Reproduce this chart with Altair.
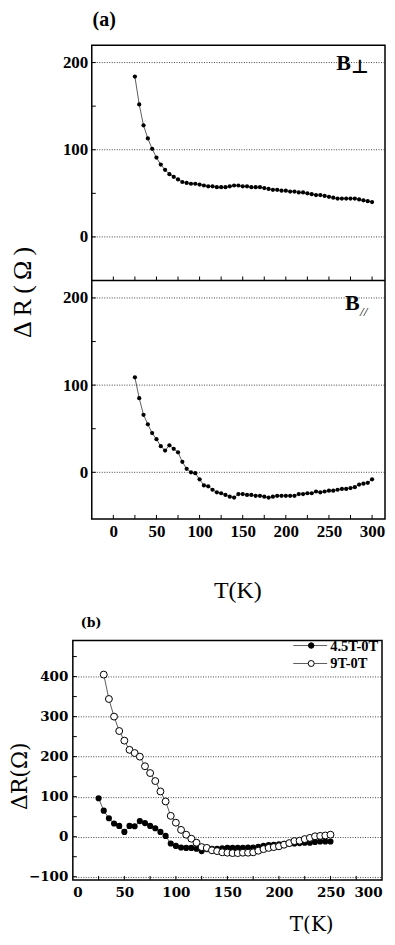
import altair as alt
import pandas as pd

# ---------------- data ----------------
T_A = [25, 30, 35, 40, 45, 50, 55, 60, 65, 70, 75, 80, 85, 90, 95, 100,
       105, 110, 115, 120, 125, 130, 135, 140, 145, 150, 155, 160, 165, 170,
       175, 180, 185, 190, 195, 200, 205, 210, 215, 220, 225, 230, 235, 240,
       245, 250, 255, 260, 265, 270, 275, 280, 285, 290, 295, 300]
DR_PERP = [184, 152, 128, 113, 101, 91, 83, 77, 72, 69, 66, 63, 62, 61, 61, 60,
           59, 58, 58, 57, 57, 57, 58, 59, 59, 58, 58, 57, 57, 57,
           56, 55, 54, 54, 53, 53, 52, 52, 51, 51, 50, 49, 48, 48,
           47, 46, 45, 44, 44, 44, 44, 44, 43, 42, 41, 40]
DR_PAR = [109, 85, 66, 55, 45, 38, 30, 25, 31, 27, 23, 12, 4, 0, -1, -8,
          -15, -16, -20, -23, -24, -26, -28, -29, -25, -25, -26, -26, -27, -27,
          -28, -29, -28, -27, -27, -27, -27, -27, -25, -25, -24, -24, -22, -23,
          -22, -21, -21, -20, -19, -19, -18, -17, -14, -13, -12, -8]

T_B45 = [25, 30, 35, 40, 45, 50, 55, 60, 65, 70, 75, 80, 85, 90, 95, 100,
         105, 110, 115, 120, 125, 130, 135, 140, 145, 150, 155, 160, 165, 170,
         175, 180, 185, 190, 195, 200, 205, 210, 215, 220, 225, 230, 235, 240,
         245, 250]
DR_45 = [96, 65, 46, 33, 27, 12, 27, 26, 39, 34, 27, 21, 12, 2, -17, -23,
         -27, -28, -28, -30, -36, -31, -30, -30, -29, -28, -28, -28, -28, -27,
         -27, -25, -23, -21, -20, -19, -18, -17, -17, -16, -15, -15, -13, -12,
         -12, -12]
T_B9 = [30, 35, 40, 45, 50, 55, 60, 65, 70, 75, 80, 85, 90, 95, 100,
        105, 110, 115, 120, 125, 130, 135, 140, 145, 150, 155, 160, 165, 170,
        175, 180, 185, 190, 195, 200, 205, 210, 215, 220, 225, 230, 235, 240,
        245, 250]
DR_9 = [405, 344, 300, 264, 240, 217, 209, 200, 176, 159, 139, 113, 88, 52, 35,
        17, 5, -5, -15, -26, -28, -34, -36, -39, -40, -41, -41, -40, -40,
        -39, -35, -31, -28, -26, -24, -20, -16, -11, -10, -6, -3, 1, 2,
        3, 5]

SERIES_B = ["4.5T-0T", "9T-0T"]
PANEL_LABELS = ["(a)", "(b)"]
FIELD_LABELS = ["B", "\u22a5", "B", "//"]
AXIS_TITLES = ["\u0394\u2009R\u2009(\u2009\u03a9\u2009)", "T(K)", "\u0394R(\u03a9)", "T(K)"]

# panel (a): two stacked sub-panels on one shared y scale; the lower (B//)
# panel is shifted down by A_SHIFT data units, its labels shifted back.
A_SHIFT = 270
A_Y_LABELS = [200, 100, 0, 200 - A_SHIFT, 100 - A_SHIFT, 0 - A_SHIFT]
A_Y_TICKS = [0, 50, 100, 150, 200, -A_SHIFT, 50 - A_SHIFT, 100 - A_SHIFT,
             150 - A_SHIFT, 200 - A_SHIFT]
A_X_LABELS = [0, 50, 100, 150, 200, 250, 300]
A_X_TICKS = [0, 25, 50, 75, 100, 125, 150, 175, 200, 225, 250, 275, 300]
B_X_LABELS = [0, 50, 100, 150, 200, 250, 300]
B_Y_LABELS = [-100, 0, 100, 200, 300, 400]
B_X_TICKS = [25, 50, 75, 100, 125, 150, 175, 200, 225, 250, 275]
B_Y_TICKS = [-100, -50, 0, 50, 100, 150, 200, 250, 300, 350, 400, 450]

# ---------------- styling / geometry ----------------
SERIF = "Liberation Serif"
WIDE = "DejaVu Serif"
IN_A = 19                      # panel (a) frame starts this far right of origin
W_A, H_A, H_TOP = 313, 475, 236
W_B, H_B = 310, 240
LINE_C = "#333333"
GRID_C = "#444444"

xs_a = alt.Scale(domain=[-25, 315], range=[IN_A, W_A], nice=False, zero=False)
ys_a = alt.Scale(domain=[-323.4, 220], nice=False, zero=False)
xs_b = alt.Scale(domain=[0, 300], nice=False, zero=False)
ys_b = alt.Scale(domain=[-108, 490], nice=False, zero=False)

AX_A_X = alt.Axis(
    values=A_X_LABELS, grid=False, ticks=False, tickSize=0, domain=False,
    labelFont=SERIF, labelFontWeight="bold", labelFontSize=17,
    labelPadding=5, labelColor="black", title=AXIS_TITLES[1], titleFont=SERIF,
    titleFontSize=24, titleFontWeight="normal", titleColor="black",
    titleX=165, titleY=79, titleBaseline="alphabetic")
AX_A_Y = alt.Axis(
    values=A_Y_LABELS, offset=-IN_A,
    labelExpr=f"datum.value < -60 ? format(datum.value + {A_SHIFT}, 'd') : format(datum.value, 'd')",
    labelFont=SERIF, labelFontWeight="bold", labelFontSize=17,
    labelPadding=4, labelColor="black", title=None, grid=False,
    ticks=False, tickSize=0, domain=False)
AX_B_X = alt.Axis(
    values=B_X_LABELS, grid=False, ticks=False, tickSize=0, domain=False,
    labelFont=WIDE, labelFontWeight="bold", labelFontSize=13.5,
    labelPadding=6, labelColor="black", title=AXIS_TITLES[3], titleFont=WIDE,
    titleFontSize=20, titleFontWeight="normal", titleColor="black",
    titleX=239, titleY=51, titleBaseline="alphabetic")
AX_B_Y = alt.Axis(
    values=B_Y_LABELS, labelFont=WIDE, labelFontWeight="bold",
    labelFontSize=13.5, labelPadding=5, labelColor="black", title=None,
    grid=True, gridDash=[1, 1.5], gridColor=GRID_C, gridWidth=1,
    ticks=False, tickSize=0, domain=False)

one = pd.DataFrame({"k": [0]})


def x_tick_layer(vals, xs, ax, ybase):
    return alt.Chart(pd.DataFrame({"v": vals})).mark_rule(
        color="black", strokeWidth=1).encode(
        x=alt.X("v:Q", scale=xs, axis=ax),
        y=alt.value(ybase), y2=alt.value(ybase - 4))


def y_tick_layer(vals, ys, ax, x0):
    return alt.Chart(pd.DataFrame({"v": vals})).mark_rule(
        color="black", strokeWidth=1).encode(
        y=alt.Y("v:Q", scale=ys, axis=ax),
        x=alt.value(x0), x2=alt.value(x0 + 4))


def txt(s, x, y, font, size, weight="bold", style="normal", align="left",
        angle=0, baseline="alphabetic"):
    return alt.Chart(pd.DataFrame({"t": [s]})).mark_text(
        font=font, fontSize=size, fontWeight=weight, fontStyle=style,
        align=align, baseline=baseline, color="black", angle=angle).encode(
        x=alt.value(x), y=alt.value(y), text="t:N")


# ---------------- panel (a) ----------------
df_a = pd.DataFrame({"T": T_A + T_A, "R": DR_PERP + DR_PAR,
                     "panel": ["perp"] * len(T_A) + ["par"] * len(T_A)})
base_a = alt.Chart(df_a).transform_calculate(
    Y=f"datum.panel == 'par' ? datum.R - {A_SHIFT} : datum.R")
enc_a = dict(x=alt.X("T:Q", scale=xs_a, axis=AX_A_X),
             y=alt.Y("Y:Q", scale=ys_a, axis=AX_A_Y))

grid_a = alt.Chart(pd.DataFrame({"g": A_Y_LABELS})).mark_rule(
    color=GRID_C, strokeWidth=1, strokeDash=[1, 1.5]).encode(
    y=alt.Y("g:Q", scale=ys_a, axis=AX_A_Y),
    x=alt.value(IN_A), x2=alt.value(W_A))
a_line = base_a.mark_line(color=LINE_C, strokeWidth=0.8).encode(
    detail="panel:N", **enc_a)
a_pts = base_a.mark_circle(color="black", opacity=1, size=18).encode(**enc_a)
frame_a = alt.Chart(one).mark_rect(filled=False, stroke="black",
                                   strokeWidth=1.5).encode(
    x=alt.value(IN_A), x2=alt.value(W_A), y=alt.value(0), y2=alt.value(H_A))
sep = alt.Chart(one).mark_rule(color="black", strokeWidth=1.5).encode(
    x=alt.value(IN_A), x2=alt.value(W_A), y=alt.value(H_TOP))

chart_a = alt.layer(
    grid_a, a_line, a_pts, frame_a, sep,
    x_tick_layer(A_X_TICKS, xs_a, AX_A_X, H_TOP),
    x_tick_layer(A_X_TICKS, xs_a, AX_A_X, H_A),
    y_tick_layer(A_Y_TICKS, ys_a, AX_A_Y, IN_A),
    txt(PANEL_LABELS[0], IN_A + 12.5, -19, SERIF, 20, align="center"),
    txt(FIELD_LABELS[0], 264, 25, SERIF, 22),
    txt(FIELD_LABELS[1], 279, 28, "DejaVu Sans", 19),
    txt(FIELD_LABELS[2], 273, H_TOP + 30, SERIF, 22),
    txt(FIELD_LABELS[3], 288, H_TOP + 36, SERIF, 13, weight="normal", style="italic"),
    txt(AXIS_TITLES[0], -50, 248, SERIF, 26, weight="normal", align="center",
        angle=270, baseline="middle"),
).properties(width=W_A, height=H_A,
             view=alt.ViewBackground(stroke="transparent"))

# ---------------- panel (b) ----------------
df45 = pd.DataFrame({"T": T_B45, "R": DR_45})
df9 = pd.DataFrame({"T": T_B9, "R": DR_9})
enc_b = dict(x=alt.X("T:Q", scale=xs_b, axis=AX_B_X),
             y=alt.Y("R:Q", scale=ys_b, axis=AX_B_Y))
l45 = alt.Chart(df45).mark_line(color=LINE_C, strokeWidth=0.8).encode(**enc_b)
p45 = alt.Chart(df45).mark_point(shape="circle", filled=True, color="black",
                                 opacity=1, size=38).encode(**enc_b)
l9 = alt.Chart(df9).mark_line(color=LINE_C, strokeWidth=0.8).encode(**enc_b)
p9 = alt.Chart(df9).mark_point(shape="circle", filled=True, fill="white",
                               stroke="black", strokeWidth=1, opacity=1,
                               size=48).encode(**enc_b)

leg = []
for i, (name, filled) in enumerate(zip(SERIES_B, [True, False])):
    yy = 5 + 18 * i
    leg.append(alt.Chart(one).mark_rule(color=LINE_C, strokeWidth=0.8).encode(
        x=alt.value(221), x2=alt.value(255), y=alt.value(yy)))
    leg.append(alt.Chart(one).mark_point(
        shape="circle", filled=True, fill="black" if filled else "white",
        stroke="black", strokeWidth=1, opacity=1,
        size=30 if filled else 36).encode(x=alt.value(239), y=alt.value(yy)))
    leg.append(alt.Chart(pd.DataFrame({"t": [name]})).mark_text(
        font=SERIF, fontSize=14.5, fontWeight="bold", align="left",
        baseline="middle", color="black").encode(
        x=alt.value(258), y=alt.value(yy + 1), text="t:N"))

chart_b = alt.layer(
    l45, p45, l9, p9,
    x_tick_layer(B_X_TICKS, xs_b, AX_B_X, H_B),
    y_tick_layer(B_Y_TICKS, ys_b, AX_B_Y, 0),
    *leg,
    txt(PANEL_LABELS[1], 8, -14, WIDE, 12.5),
    txt(AXIS_TITLES[2], -53, 136, WIDE, 22, weight="normal", align="center",
        angle=270, baseline="middle"),
).properties(width=W_B, height=H_B)

chart = alt.concat(chart_a, chart_b, columns=1, spacing=12).properties(
    padding={"left": 0, "top": 0, "right": 0, "bottom": 0}
).configure_view(stroke="black", strokeWidth=1.5)

chart.save("out.html", embed_options={"renderer": "svg", "actions": False})
